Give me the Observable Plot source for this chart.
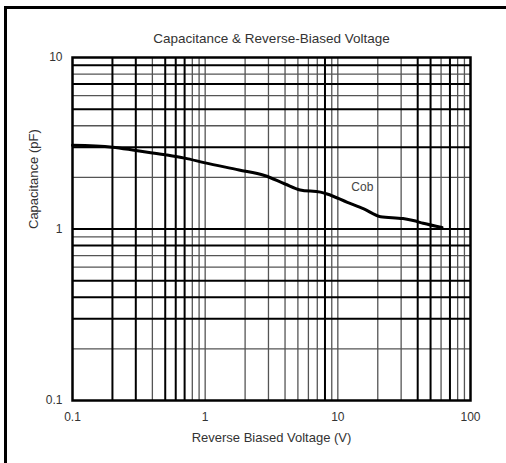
<!DOCTYPE html>
<html>
<head>
<meta charset="utf-8">
<script src="https://cdn.jsdelivr.net/npm/d3@7"></script>
<script src="https://cdn.jsdelivr.net/npm/@observablehq/plot@0.6"></script>
<style>
  html, body { margin: 0; padding: 0; background: #fff; }
  #wrap { position: relative; width: 506px; height: 463px; overflow: hidden; }
  #border { position: absolute; left: 4px; top: 6px; width: 600px; height: 600px;
            border-top: 3px solid #000; border-left: 3px solid #000; pointer-events: none; }
  svg { font-family: "Liberation Sans", Arial, sans-serif; }
</style>
</head>
<body>
<div id="wrap"><div id="border"></div></div>
<script>
const voltage     = [0.1, 0.2, 0.3, 0.5, 0.7, 1, 1.8, 2.8, 4, 5.2, 7.4, 8.3, 11.8, 15.7, 21, 31, 37, 44, 61];
const capacitance = [3.08, 3.0, 2.87, 2.71, 2.59, 2.43, 2.21, 2.05, 1.83, 1.69, 1.64, 1.60, 1.43, 1.31, 1.18, 1.15, 1.12, 1.08, 1.02];

const xTicks = [0.1, 1, 10, 100];
const yTicks = [0.1, 1, 10];
const xGridDark  = [0.2, 0.3, 0.5, 0.6, 0.7, 8, 40, 50, 70];
const xGridLight = [0.4, 0.8, 0.9, 1, 2, 3, 4, 5, 6, 7, 9, 10, 20, 30, 60, 80, 90];
const yGridDark  = [9, 7, 5, 3, 1, 0.8, 0.5, 0.4, 0.3];
const yGridLight = [8, 6, 4, 2, 0.9, 0.7, 0.6, 0.2];

const seriesLabel = ["Cob"];
const seriesLabelPos = {x: 15.3, y: 1.75};
const title = "Capacitance & Reverse-Biased Voltage";
const xLabel = "Reverse Biased Voltage (V)";
const yLabel = "Capacitance (pF)";

const data = voltage.map((v, i) => ({v, c: capacitance[i]}));
const fmt = d => String(d);

const chart = Plot.plot({
  width: 506,
  height: 463,
  marginLeft: 72,
  marginRight: 36,
  marginTop: 57,
  marginBottom: 63,
  style: {fontFamily: "Liberation Sans, Arial, sans-serif", background: "transparent"},
  x: {type: "log", domain: [0.1, 100]},
  y: {type: "log", domain: [0.1, 10]},
  marks: [
    Plot.ruleX(xGridLight, {stroke: "#555", strokeWidth: 1.3}),
    Plot.ruleY(yGridLight, {stroke: "#555", strokeWidth: 1.3}),
    Plot.ruleX(xGridDark, {stroke: "#000", strokeWidth: 2}),
    Plot.ruleY(yGridDark, {stroke: "#000", strokeWidth: 2}),
    Plot.frame({stroke: "#000", strokeWidth: 2.5}),
    Plot.axisX(xTicks, {tickSize: 0, tickPadding: 12, tickFormat: fmt, fontSize: 12, fill: "#333", label: null}),
    Plot.axisY(yTicks, {tickSize: 0, tickPadding: 10, tickFormat: fmt, fontSize: 12, fill: "#333", label: null}),
    Plot.line(data, {x: "v", y: "c", stroke: "#000", strokeWidth: 3, curve: "monotone-x"}),
    Plot.text(seriesLabel, {x: seriesLabelPos.x, y: seriesLabelPos.y, text: d => d, fontSize: 12, fill: "#444"}),
    Plot.text([title], {frameAnchor: "top", lineAnchor: "middle", dy: -19, text: d => d, fontSize: 13.5, fill: "#333"}),
    Plot.text([xLabel], {frameAnchor: "bottom", lineAnchor: "middle", dy: 37, text: d => d, fontSize: 13, fill: "#333"}),
    Plot.text([yLabel], {frameAnchor: "left", dx: -39, rotate: -90, text: d => d, fontSize: 13, fill: "#333"})
  ]
});
document.getElementById("wrap").insertBefore(chart, document.getElementById("border"));
</script>
</body>
</html>
